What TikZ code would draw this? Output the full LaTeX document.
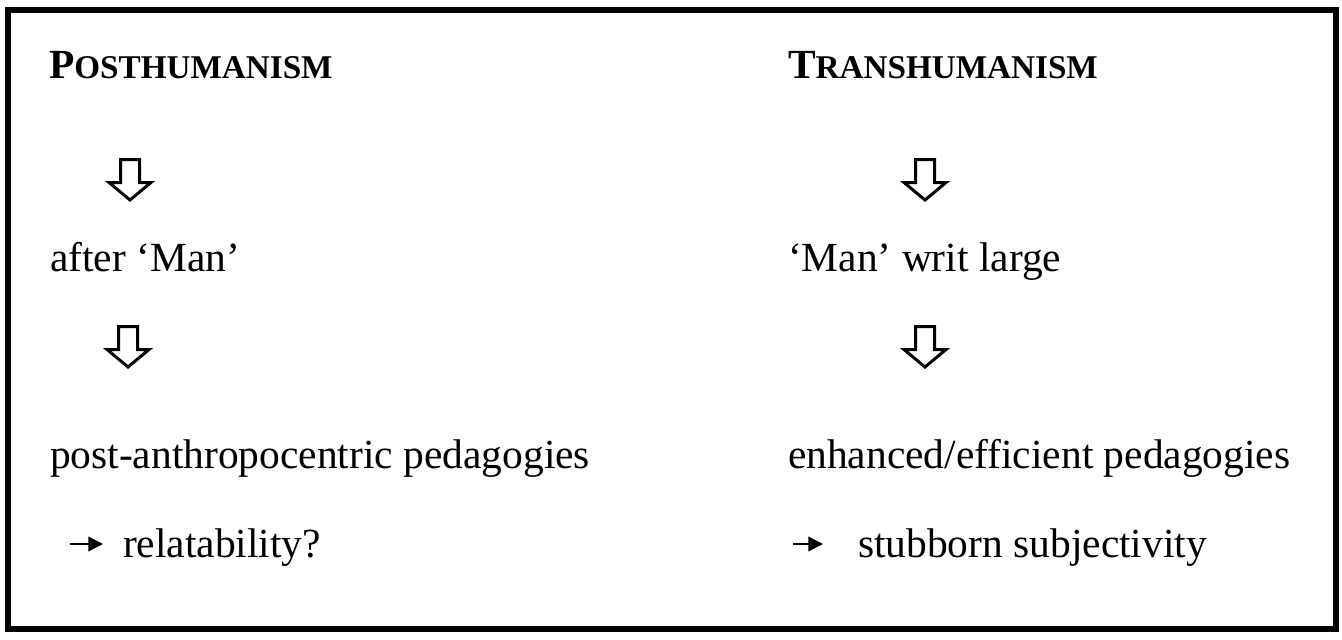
\documentclass[tikz,border=0pt]{standalone}
\usepackage{fontspec}
\setmainfont{Liberation Serif}
\usetikzlibrary{arrows.meta}
\tikzset{
  txt/.style={anchor=base west, inner sep=0pt, outer sep=0pt, font=\fontsize{31.1}{37}\selectfont},
  ttl/.style={anchor=base west, inner sep=0pt, outer sep=0pt, font=\fontsize{31.1}{37}\selectfont\bfseries},
  frame/.style={draw=black, line width=4.5pt},
  smallarrow/.style={draw=black, line width=1.1pt, -{Triangle[length=11pt,width=11pt]}},
  hollowdown/.pic={
    \draw[line width=2.25pt, line join=miter, fill=white]
      (-9.5,1.5) -- (9.5,1.5) -- (9.5,24.5) -- (21,24.5) -- (0,42) -- (-21,24.5) -- (-9.5,24.5) -- cycle;
  }
}
\newcommand{\mysc}[1]{{\fontsize{24.9}{30}\selectfont #1}}
\begin{document}
\begin{tikzpicture}[x=0.75pt,y=-0.75pt]
\useasboundingbox (0,0) rectangle (1342,639);
\draw[frame] (7.5,10) rectangle (1335.5,628.5);
% titles
\node[ttl] (post) at (49,78) {P\mysc{OSTHUMANISM}};
\node[ttl] (trans) at (788,78) {T\mysc{RANSHUMANISM}};
% first arrows
\pic at (130,158) {hollowdown};
\pic at (925,158) {hollowdown};
% second row
\node[txt] (afterman) at (50,271) {after ‘Man’};
\node[txt] (writlarge) at (788,271) {‘Man’ writ large};
% second arrows
\pic at (128,325) {hollowdown};
\pic at (925,325) {hollowdown};
% third row
\node[txt] (postanth) at (50,468) {post-anthropocentric pedagogies};
\node[txt] (enhanced) at (788,468) {enhanced/efficient pedagogies};
% fourth row
\coordinate (la1) at (70,544);
\coordinate (la2) at (103,544);
\draw[smallarrow] (la1) -- (la2);
\node[txt] (relat) at (123,557) {relatability?};
\coordinate (ra1) at (793,544);
\coordinate (ra2) at (823,544);
\draw[smallarrow] (ra1) -- (ra2);
\node[txt] (stub) at (858,557) {stubborn subjectivity};
\end{tikzpicture}
\end{document}
